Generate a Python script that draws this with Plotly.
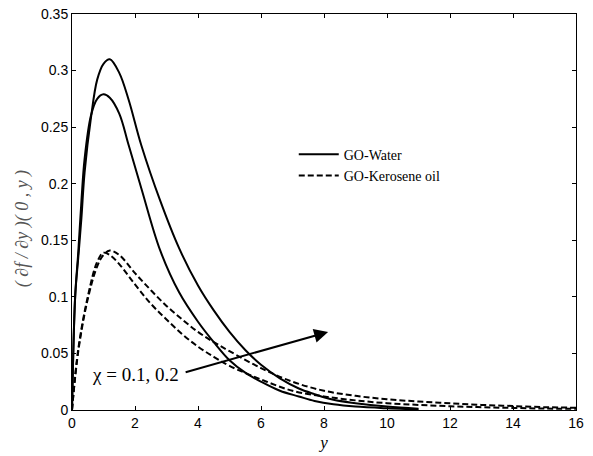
import plotly.graph_objects as go

# GO-Water curves (solid)
x_water = [0, 0.1, 0.2, 0.3, 0.4, 0.6, 0.8, 1.0, 1.2, 1.5, 1.8, 2.2, 2.8, 3.4, 4.0, 4.5, 5.0, 5.5, 6.0, 6.6, 7.2, 7.7, 8.3, 9.0, 10.0, 11.0]
water_a = [0, 0.10, 0.135, 0.17, 0.21, 0.258, 0.292, 0.306, 0.31, 0.298, 0.274, 0.234, 0.185, 0.143, 0.110, 0.088, 0.069, 0.053, 0.040, 0.028, 0.019, 0.014, 0.009, 0.006, 0.003, 0.001]
water_b = [0, 0.10, 0.14, 0.185, 0.222, 0.26, 0.275, 0.279, 0.276, 0.262, 0.234, 0.196, 0.141, 0.104, 0.078, 0.060, 0.044, 0.033, 0.025, 0.017, 0.012, 0.008, 0.005, 0.003, 0.0015, 0.0005]

# GO-Kerosene oil curves (dashed)
x_kero = [0, 0.2, 0.5, 0.8, 1.0, 1.2, 1.5, 2.0, 2.5, 3.0, 3.5, 4.0, 4.5, 5.0, 6.0, 7.0, 8.0, 9.0, 10.0, 11.0, 12.0, 13.0, 14.0, 15.0, 16.0]
kero_a = [0, 0.052, 0.098, 0.127, 0.137, 0.141, 0.137, 0.121, 0.106, 0.092, 0.080, 0.069, 0.060, 0.052, 0.037, 0.025, 0.017, 0.0125, 0.0095, 0.0075, 0.006, 0.0045, 0.0035, 0.0025, 0.002]
kero_b = [0, 0.054, 0.100, 0.131, 0.139, 0.137, 0.129, 0.111, 0.094, 0.080, 0.067, 0.056, 0.047, 0.039, 0.027, 0.017, 0.012, 0.0085, 0.006, 0.0045, 0.0033, 0.0025, 0.0018, 0.0013, 0.001]

x_ticks = [0, 2, 4, 6, 8, 10, 12, 14, 16]
y_ticks = [0, 0.05, 0.1, 0.15, 0.2, 0.25, 0.3, 0.35]
y_tick_labels = ["0", "0.05", "0.1", "0.15", "0.2", "0.25", "0.3", "0.35"]

serif = "Liberation Serif, Times New Roman, serif"
sans = "Liberation Sans, Arial, sans-serif"

fig = go.Figure()
solid = dict(color="black", width=2)
dashed = dict(color="black", width=2, dash="6px,3px")
fig.add_trace(go.Scatter(x=x_water, y=water_a, mode="lines", line=dict(**solid, shape="spline"), name="GO-Water"))
fig.add_trace(go.Scatter(x=x_water, y=water_b, mode="lines", line=dict(**solid, shape="spline"), showlegend=False))
fig.add_trace(go.Scatter(x=x_kero, y=kero_a, mode="lines", line=dict(**dashed, shape="spline"), name="GO-Kerosene oil"))
fig.add_trace(go.Scatter(x=x_kero, y=kero_b, mode="lines", line=dict(**dashed, shape="spline"), showlegend=False))

fig.add_annotation(x=8.13, y=0.069, ax=3.56, ay=0.033, axref="x", ayref="y", xref="x", yref="y",
                   text="", showarrow=True, arrowhead=2, arrowsize=1.4, arrowwidth=2, arrowcolor="black")
fig.add_annotation(x=2.0, y=0.031, xref="x", yref="y", text="χ = 0.1, 0.2", showarrow=False,
                   font=dict(family=serif, size=19, color="black"))
# y-axis title
fig.add_annotation(x=-0.099, y=0.457, xref="paper", yref="paper", text="<i>( ∂f / ∂y )( 0 , y )</i>",
                   showarrow=False, textangle=-90, xanchor="center", yanchor="middle",
                   font=dict(family=serif, size=18, color="#555555"))

axis_common = dict(showline=True, linecolor="black", linewidth=1, mirror="ticks", ticks="inside",
                   ticklen=4, tickcolor="black", showgrid=False, zeroline=False, automargin=False,
                   tickfont=dict(family=sans, size=14, color="black"))

fig.update_xaxes(range=[0, 16], tickvals=x_ticks,
                 title=dict(text="<i>y</i>", font=dict(family=serif, size=17, color="black"), standoff=6),
                 **axis_common)
fig.update_yaxes(range=[0, 0.35], tickvals=y_ticks, ticktext=y_tick_labels, **axis_common)

fig.update_layout(
    width=593, height=456,
    margin=dict(l=72, r=17, t=14, b=46),
    plot_bgcolor="white", paper_bgcolor="white",
    legend=dict(x=0.44, y=0.685, xanchor="left", yanchor="top", bgcolor="rgba(0,0,0,0)",
                font=dict(family=serif, size=14, color="black"), tracegroupgap=0, itemwidth=40),
)

fig.write_html("out.html")
